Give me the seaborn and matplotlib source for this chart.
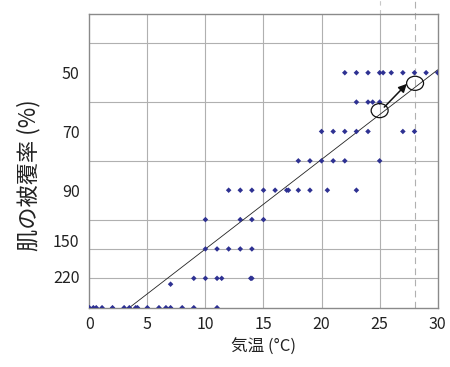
import matplotlib
matplotlib.use("Agg")
import matplotlib.pyplot as plt
from matplotlib.patches import Ellipse
import seaborn as sns
import pandas as pd

# air temperature (deg C) of each observation, grouped by row of the chart
# rows are counted from the top of the plot (0) down to the x axis (10)
temp_row2 = [22, 23, 24, 25, 25.3, 26, 27, 28, 29, 30]
temp_row3 = [23, 24, 24.4, 25]
temp_row4 = [20, 21, 22, 23, 24, 27, 28]
temp_row5 = [18, 19, 20, 21, 22, 25]
temp_row6 = [12, 13, 14, 15, 16, 17, 17.15, 18, 19, 20.5, 23]
temp_row7 = [10, 13, 14, 15]
temp_row8 = [10, 11, 12, 13, 14]
temp_row9 = [9, 10, 11, 11.4, 13.9, 14]
temp_row9b = [7]
temp_row10 = [0, 0.35, 0.6, 1.1, 2, 3, 3.45, 4, 4.15, 5, 6, 6.6, 7, 8, 9, 11]

rows = {2: temp_row2, 3: temp_row3, 4: temp_row4, 5: temp_row5, 6: temp_row6,
        7: temp_row7, 8: temp_row8, 9: temp_row9, 9.2: temp_row9b, 10: temp_row10}

# y tick labels (skin coverage %) and where they sit
cover_labels = ["50", "70", "90", "150", "220"]
cover_pos = [2, 4, 6, 7.7, 8.95]

# trend line
trend_x = [3.45, 30]
trend_y = [10, 1.9]

# marked points and arrow between them
circle_x = [25, 28.05]
circle_y = [3.29, 2.36]
arrow_from = (25.4, 3.17)
arrow_to = (27.34, 2.38)

df = pd.DataFrame([(t, r) for r, ts in rows.items() for t in ts], columns=["temp", "row"])

sns.set_style("white")
plt.rcParams["font.family"] = ["Noto Sans CJK JP", "DejaVu Sans"]

fig = plt.figure(figsize=(4.5, 3.67), dpi=100)
ax = fig.add_axes([0.1984, 0.1616, 0.7743, 0.8003])

sns.scatterplot(data=df, x="temp", y="row", ax=ax, marker="D", s=8,
                color="#2e3192", edgecolor="none", zorder=3)
sns.lineplot(x=trend_x, y=trend_y, ax=ax, color="#222222", linewidth=0.6, zorder=2)

for cx, cy in zip(circle_x, circle_y):
    ax.add_patch(Ellipse((cx, cy), 1.46, 0.48, fill=False, edgecolor="#111111",
                         linewidth=0.9, zorder=4))
ax.annotate("", xy=arrow_to, xytext=arrow_from,
            arrowprops=dict(arrowstyle="-|>", color="#111111", lw=1.1,
                            mutation_scale=12, shrinkA=0, shrinkB=0), zorder=5)

ax.set_xlim(0, 30)
ax.set_ylim(10, 0)
ax.set_xticks(range(0, 31, 5))
ax.set_yticks(cover_pos)
ax.set_yticklabels(cover_labels)
ax.set_yticks(range(1, 10), minor=True)
ax.grid(False)
for x in range(5, 30, 5):
    ax.axvline(x, color="#b0b0b0", linewidth=0.8, zorder=1)
ax.grid(True, which="minor", axis="y", color="#b0b0b0", linewidth=0.8)

# dashed guides that run past the top of the frame
ax.plot([25, 25], [0, -0.5], color="#c8c8c8", linewidth=0.8, linestyle=(0, (4, 4)),
        clip_on=False)
ax.plot([28.05, 28.05], [10, -0.5], color="#b0b0b0", linewidth=0.8,
        linestyle=(0, (6, 4)), clip_on=False, zorder=1)

ax.tick_params(axis="both", which="both", length=0, labelsize=11.5, colors="#222222")
ax.tick_params(axis="y", pad=7)
ax.tick_params(axis="x", pad=6)
for s in ax.spines.values():
    s.set_color("#8a8a8a")
    s.set_linewidth(1.0)

ax.set_xlabel("気温 (°C)", fontsize=12, color="#222222", labelpad=4)
ax.set_ylabel("肌の被覆率 (%)", fontsize=16, color="#222222")
ax.yaxis.set_label_coords(-0.14, 0.45)

fig.savefig("out.png", dpi=100)
